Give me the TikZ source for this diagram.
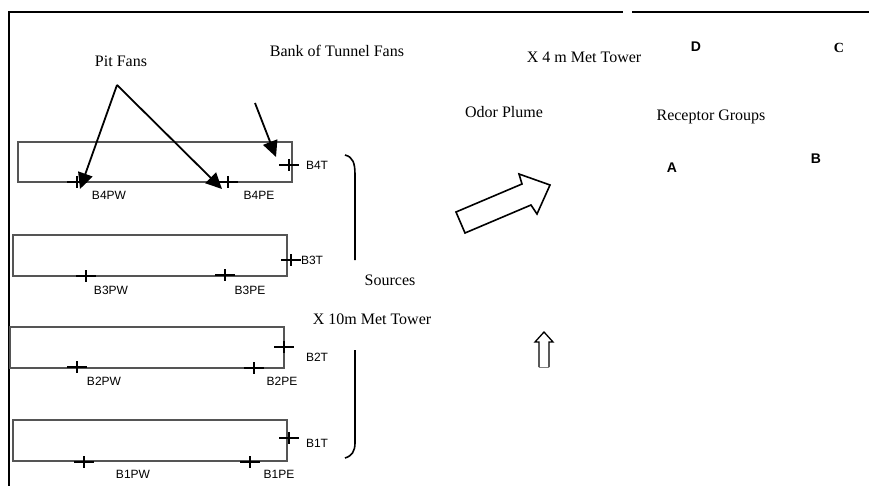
\documentclass[tikz,border=0pt]{standalone}
\usepackage{fontspec}
\setmainfont{Liberation Serif}
\newfontfamily\arialf{Liberation Sans}
\usetikzlibrary{arrows.meta}
\definecolor{bldgray}{HTML}{555555}
\begin{document}
\begin{tikzpicture}[x=1pt,y=-1pt,
  frameline/.style={line width=2.6pt,black},
  bldg/.style={draw=bldgray,line width=1.3pt,fill=none,inner sep=0pt},
  serif/.style={font=\fontsize{16}{18}\selectfont,inner sep=0pt,anchor=center},
  lbl/.style={font=\arialf\fontsize{12}{14}\selectfont,inner sep=0pt,anchor=center},
  rcpt/.style={font=\arialf\bfseries\fontsize{14}{16}\selectfont,inner sep=0pt,anchor=center},
  pointer/.style={line width=1.8pt,-{Triangle[length=16pt,width=15pt]}},
  brace/.style={line width=1.6pt},
  blockarrow/.style={line width=1.6pt,line join=miter},
  fancross/.pic={\draw[line width=1.3pt] (-10,0) -- (10,0) (0,-6) -- (0,6);}
]
\useasboundingbox (0,0) rectangle (869,486);
% frame
\draw[frameline] (9,486) -- (9,12) -- (623,12);
\draw[frameline] (632,12) -- (869,12);

% buildings
\node[bldg,minimum width=274,minimum height=40] (b4) at (155,162) {};
\node[bldg,minimum width=274,minimum height=41] (b3) at (150,255.5) {};
\node[bldg,minimum width=274,minimum height=41] (b2) at (147,347.5) {};
\node[bldg,minimum width=274,minimum height=41] (b1) at (150,440.5) {};

% crosses
\coordinate (c4t) at (289,165);  \pic at (c4t) {fancross};
\coordinate (c4pw) at (77,182);  \pic at (c4pw) {fancross};
\coordinate (c4pe) at (228,182); \pic at (c4pe) {fancross};
\coordinate (c3t) at (291,260);  \pic at (c3t) {fancross};
\coordinate (c3pw) at (86,276);  \pic at (c3pw) {fancross};
\coordinate (c3pe) at (225,275); \pic at (c3pe) {fancross};
\coordinate (c2t) at (284,347);  \pic at (c2t) {fancross};
\coordinate (c2pw) at (77,367);  \pic at (c2pw) {fancross};
\coordinate (c2pe) at (254,368); \pic at (c2pe) {fancross};
\coordinate (c1t) at (289,438);  \pic at (c1t) {fancross};
\coordinate (c1pw) at (84,462);  \pic at (c1pw) {fancross};
\coordinate (c1pe) at (250,462); \pic at (c1pe) {fancross};

% labels of sources
\node[lbl] (l4t) at (317,165) {B4T};
\node[lbl] (l4pw) at (109,195) {B4PW};
\node[lbl] (l4pe) at (259,195) {B4PE};
\node[lbl] (l3t) at (312,260) {B3T};
\node[lbl] (l3pw) at (111,290) {B3PW};
\node[lbl] (l3pe) at (250,290) {B3PE};
\node[lbl] (l2t) at (317,357) {B2T};
\node[lbl] (l2pw) at (104,381) {B2PW};
\node[lbl] (l2pe) at (282,381) {B2PE};
\node[lbl] (l1t) at (317,443) {B1T};
\node[lbl] (l1pw) at (133,474) {B1PW};
\node[lbl] (l1pe) at (279,474) {B1PE};

% texts
\node[serif] (pit) at (121,61) {Pit Fans};
\node[serif] (bank) at (337,51) {Bank of Tunnel Fans};
\node[serif] (met4) at (584,57) {X 4 m Met Tower};
\node[serif] (odor) at (504,112) {Odor Plume};
\node[serif] (rcp) at (711,117) {Receptor Groups};
\node[serif] (src) at (390,280) {Sources};
\node[serif] (met10) at (372,319) {X 10m Met Tower};
\node[rcpt] (rd) at (696,47) {D};
\node[font=\bfseries\fontsize{14}{16}\selectfont,inner sep=0pt] (rc) at (839,48) {C};
\node[rcpt] (ra) at (672,168) {A};
\node[rcpt] (rb) at (816,159) {B};

% pointer arrows
\coordinate (pitapex) at (117,85);
\coordinate (pwtip) at (80,189);
\coordinate (petip) at (222,189);
\coordinate (tunstart) at (255,103);
\coordinate (tuntip) at (276,157);
\draw[pointer] (pitapex) -- (pwtip);
\draw[pointer] (pitapex) -- (petip);
\draw[pointer] (tunstart) -- (tuntip);

% braces
\draw[brace] (345,155) .. controls (353,157) and (355,163) .. (355,175) -- (355,260);
\draw[brace] (355,350) -- (355,443) .. controls (355,451) and (352,456) .. (345,458);

% odor plume block arrow
\draw[blockarrow] (456,212) -- (522,184) -- (519,174) -- (550,185) -- (537,214) -- (531,205) -- (465,233) -- cycle;

% wind arrow
\draw[line width=1.3pt,line join=miter] (539,367) -- (539,342) -- (535,342) -- (544,332) -- (553,342) -- (549,342) -- (549,367);
\draw[line width=0.8pt,gray] (539,367) -- (549,367);
\end{tikzpicture}
\end{document}
